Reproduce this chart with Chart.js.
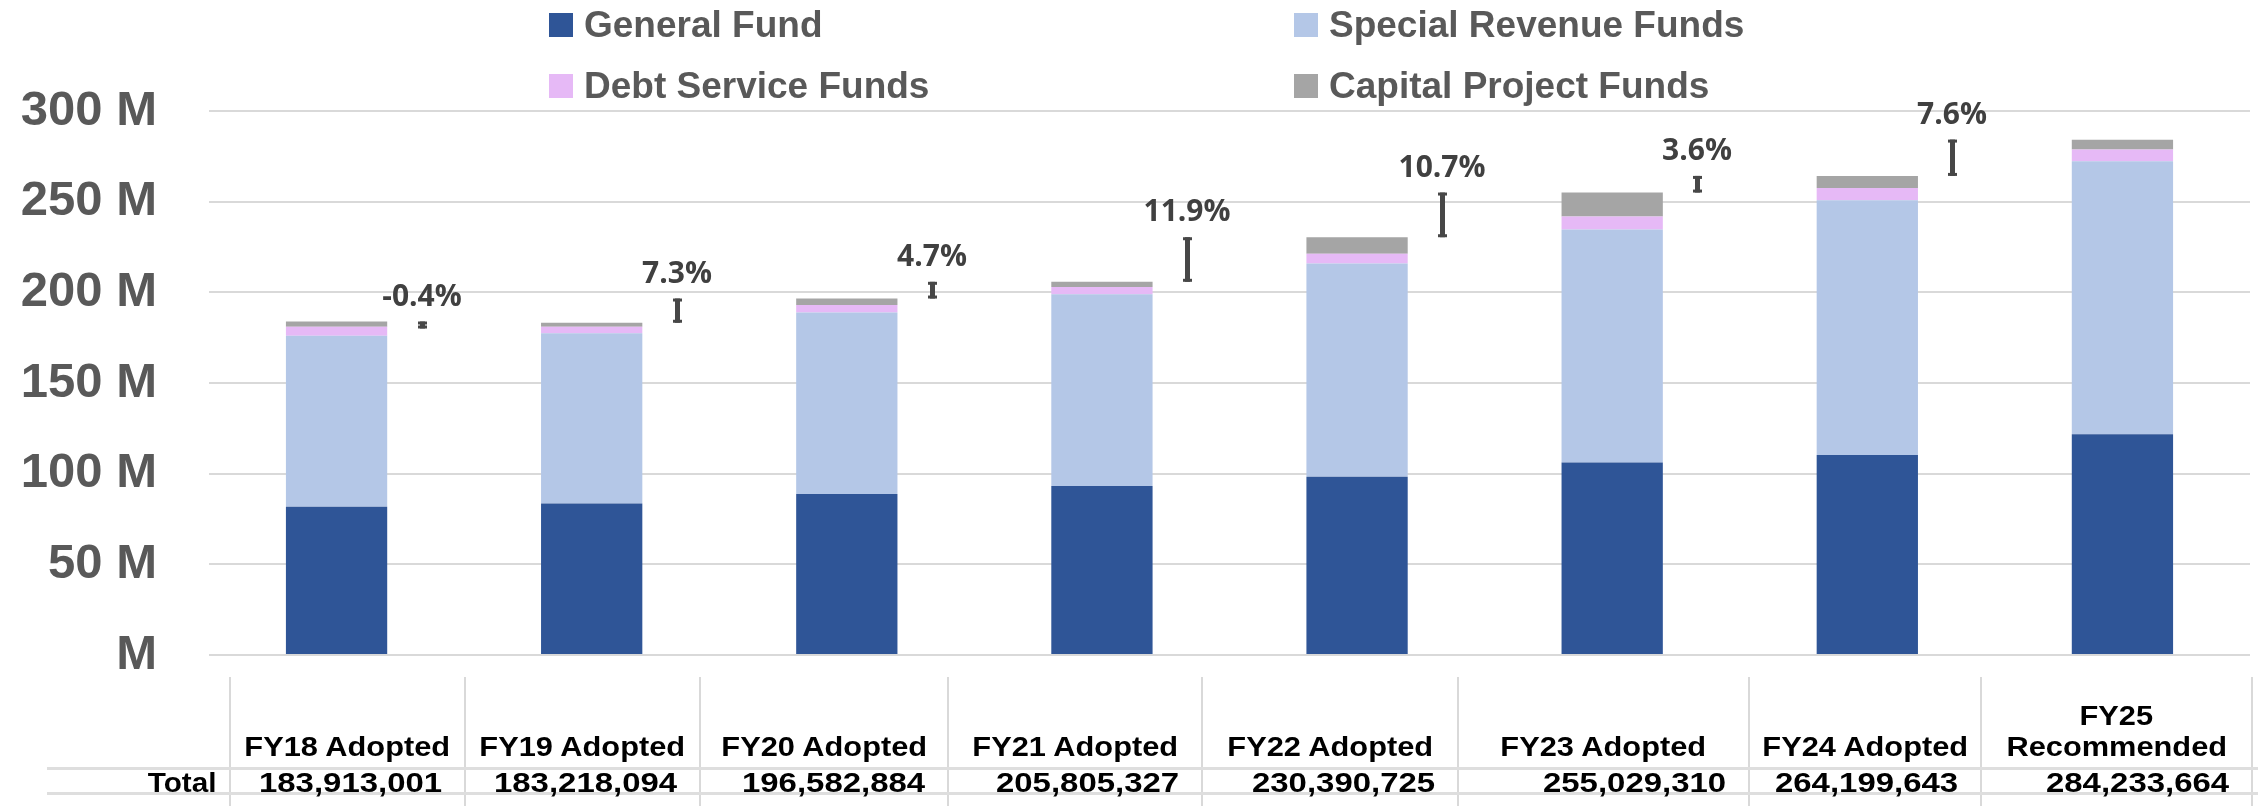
<!DOCTYPE html>
<html>
<head>
<meta charset="utf-8">
<script src="https://cdn.jsdelivr.net/npm/chart.js@4.4.1/dist/chart.umd.min.js"></script>
<style>
  body { margin: 0; width: 2258px; height: 806px; overflow: hidden; background: #fff; position: relative; font-family: "Liberation Sans", Arial, sans-serif; }
  #c { position: absolute; left: 0; top: 0; }
  .lg { position: absolute; font: bold 37px "Liberation Sans", Arial, sans-serif; color: #595959; line-height: 40px; white-space: nowrap; }
  .sw { position: absolute; width: 24px; height: 24px; }
  .vl { position: absolute; width: 2px; background: #d9d9d9; top: 677px; height: 129px; }
  .hl { position: absolute; height: 3px; background: #dedede; left: 47px; width: 2211px; }
  .hd { position: absolute; top: 690px; height: 73px; display: flex; flex-direction: column; justify-content: flex-end; align-items: center; font: bold 27px "Liberation Sans", Arial, sans-serif; line-height: 31px; color: #000; }
  .hd span { display: inline-block; transform: scaleX(1.14); white-space: nowrap; }
  .tv { position: absolute; top: 768px; height: 25px; line-height: 25px; text-align: right; font: bold 27px "Liberation Sans", Arial, sans-serif; color: #000; white-space: nowrap; }
  .tv span { display: inline-block; transform: scaleX(1.22); transform-origin: right center; }
</style>
</head>
<body>
<canvas id="c" width="2258" height="806"></canvas>
<div id="legend"></div>
<div id="table"></div>
<script>
// categories and values (millions of dollars)
const categories = ['FY18 Adopted', 'FY19 Adopted', 'FY20 Adopted', 'FY21 Adopted', 'FY22 Adopted', 'FY23 Adopted', 'FY24 Adopted', 'FY25 Recommended'];
const headerLines = [['FY18 Adopted'], ['FY19 Adopted'], ['FY20 Adopted'], ['FY21 Adopted'], ['FY22 Adopted'], ['FY23 Adopted'], ['FY24 Adopted'], ['FY25', 'Recommended']];
const seriesNames = ['General Fund', 'Special Revenue Funds', 'Debt Service Funds', 'Capital Project Funds'];
const generalFund = [81.8, 83.6, 88.8, 93.2, 98.3, 106.2, 110.3, 121.8];
const specialRevenue = [94.2, 93.9, 100.1, 105.7, 117.6, 128.5, 140.5, 150.5];
const debtService = [5.0, 3.5, 4.1, 4.1, 5.4, 7.1, 6.7, 6.5];
const capitalProject = [2.9, 2.2, 3.6, 2.8, 9.1, 13.2, 6.7, 5.4];
const totals = [183913001, 183218094, 196582884, 205805327, 230390725, 255029310, 264199643, 284233664];
const pctChange = ['-0.4%', '7.3%', '4.7%', '11.9%', '10.7%', '3.6%', '7.6%'];
const yTickLabels = ['M', '50 M', '100 M', '150 M', '200 M', '250 M', '300 M'];

const colors = ['#2f5597', '#b4c7e7', '#e6b9f6', '#a5a5a5'];

// change markers: span from one total to the next, a third of the way to the next bar
const changeMarkers = {
    id: 'changeMarkers',
    afterDatasetsDraw(chart) {
        const ctx = chart.ctx, x = chart.scales.x, y = chart.scales.y;
        ctx.save();
        pctChange.forEach((label, i) => {
            const x0 = x.getPixelForValue(i), x1 = x.getPixelForValue(i + 1);
            const px = Math.round(x0 + (x1 - x0) / 3);
            const ya = y.getPixelForValue(totals[i] / 1e6);
            const yb = y.getPixelForValue(totals[i + 1] / 1e6);
            const top = Math.min(ya, yb);
            const bot = Math.max(Math.max(ya, yb), top + 7);
            ctx.fillStyle = '#474747';
            ctx.fillRect(px - 2, top, 5, bot - top);
            ctx.fillRect(px - 4, top, 9, 3);
            ctx.fillRect(px - 4, bot - 3, 9, 3);
            ctx.fillStyle = '#404040';
            ctx.font = 'bold 30px "Open Sans"';
            ctx.textAlign = 'center';
            ctx.textBaseline = 'alphabetic';
            ctx.fillText(label, px, top - 16);
        });
        ctx.restore();
    }
};

const chart = new Chart(document.getElementById('c'), {
    type: 'bar',
    data: {
        labels: categories,
        datasets: [generalFund, specialRevenue, debtService, capitalProject].map((d, i) => ({
            label: seriesNames[i],
            data: d,
            backgroundColor: colors[i],
            borderWidth: 0,
            categoryPercentage: 1,
            barPercentage: 0.397
        }))
    },
    options: {
        responsive: false,
        animation: false,
        devicePixelRatio: 1,
        layout: { padding: { top: 111, bottom: 151, left: 0, right: 8 } },
        plugins: { legend: { display: false }, tooltip: { enabled: false } },
        scales: {
            x: { stacked: true, display: false },
            y: {
                stacked: true,
                min: 0,
                max: 300,
                afterFit(s) { s.width = 209; },
                border: { display: false },
                grid: { color: '#d9d9d9', lineWidth: 2, drawTicks: false },
                ticks: {
                    stepSize: 50,
                    padding: 52,
                    color: '#595959',
                    font: { family: '"Liberation Sans", Arial, sans-serif', size: 49, weight: 'bold' },
                    callback: (v, i) => yTickLabels[i]
                }
            }
        }
    },
    plugins: [changeMarkers]
});

// legend, two columns
const legendPos = [[549, 13], [1294, 13], [549, 74], [1294, 74]];
const legend = document.getElementById('legend');
seriesNames.forEach((name, k) => {
    const [lx, ly] = legendPos[k];
    const sw = document.createElement('div');
    sw.className = 'sw';
    sw.style.left = lx + 'px';
    sw.style.top = ly + 'px';
    sw.style.background = colors[k];
    legend.appendChild(sw);
    const t = document.createElement('div');
    t.className = 'lg';
    t.style.left = (lx + 35) + 'px';
    t.style.top = (ly - 8) + 'px';
    t.textContent = name;
    legend.appendChild(t);
});

// data table under the chart
const colEdges = [47, 230, 465, 700, 948, 1202, 1458, 1749, 1981, 2252];
const table = document.getElementById('table');
colEdges.slice(1).forEach(e => {
    const v = document.createElement('div');
    v.className = 'vl';
    v.style.left = (e - 1) + 'px';
    table.appendChild(v);
});
[767, 792].forEach(yy => {
    const h = document.createElement('div');
    h.className = 'hl';
    h.style.top = yy + 'px';
    table.appendChild(h);
});
const fmt = n => n.toLocaleString('en-US');
headerLines.forEach((lines, i) => {
    const d = document.createElement('div');
    d.className = 'hd';
    d.style.left = colEdges[i + 1] + 'px';
    d.style.width = (colEdges[i + 2] - colEdges[i + 1]) + 'px';
    lines.forEach(l => {
        const s = document.createElement('span');
        s.textContent = l;
        d.appendChild(s);
    });
    table.appendChild(d);
});
const addCell = (text, left, right, scale) => {
    const d = document.createElement('div');
    d.className = 'tv';
    d.style.left = left + 'px';
    d.style.width = (right - left) + 'px';
    const s = document.createElement('span');
    s.textContent = text;
    if (scale) s.style.transform = 'scaleX(' + scale + ')';
    d.appendChild(s);
    table.appendChild(d);
};
addCell('Total', colEdges[0], colEdges[1] - 14, 1.1);
totals.forEach((t, i) => addCell(fmt(t), colEdges[i + 1], colEdges[i + 2] - 23));
</script>
</body>
</html>
